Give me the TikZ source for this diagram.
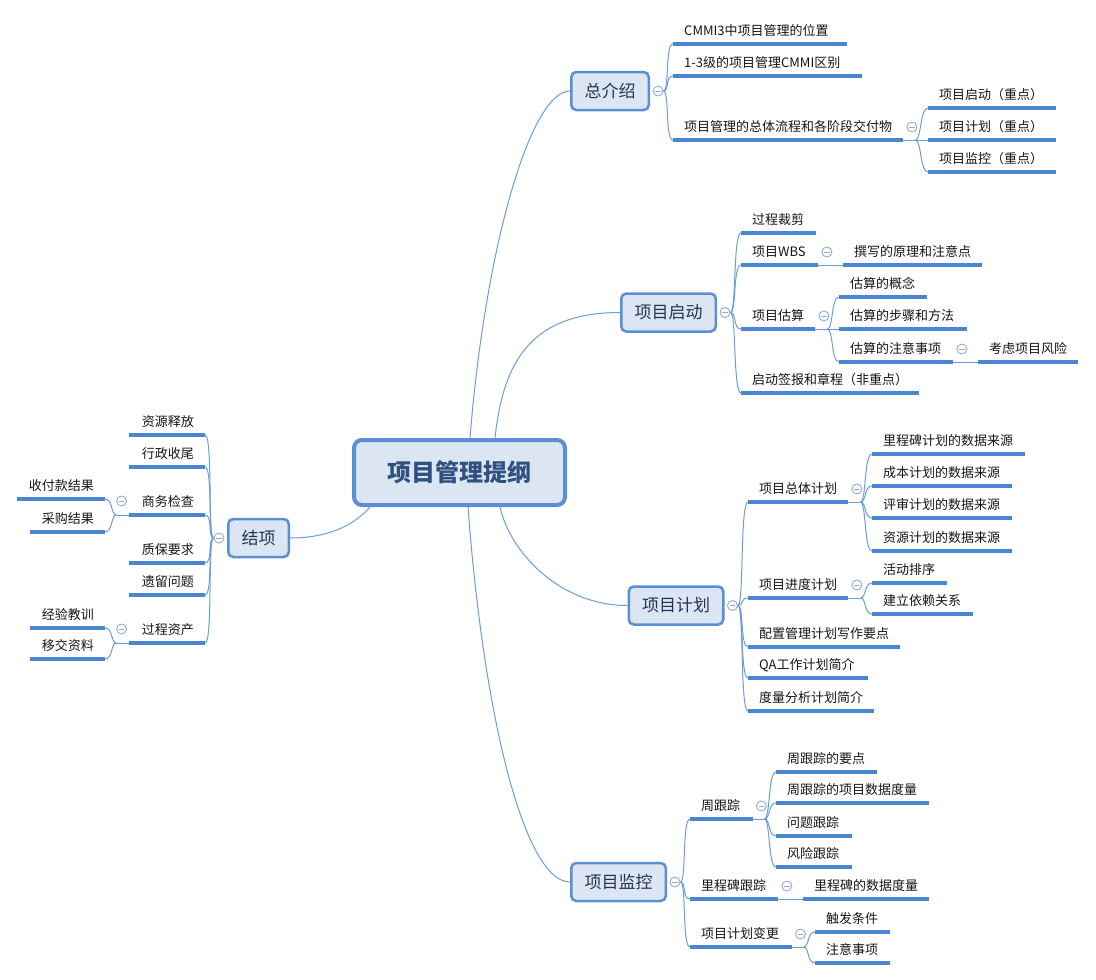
\documentclass[tikz,border=0pt]{standalone}
\usepackage{fontspec}
\setmainfont{Noto Sans CJK SC}
\usetikzlibrary{calc}
\definecolor{boxfill}{HTML}{DCE6F2}
\definecolor{boxline}{HTML}{5A8FD5}
\definecolor{ulcol}{HTML}{4A86D2}
\definecolor{conncol}{HTML}{6B9CDB}
\definecolor{togcol}{HTML}{8FAADC}
\definecolor{roottext}{HTML}{2F5180}
\definecolor{boxtext}{HTML}{243550}
\definecolor{itemtext}{HTML}{151515}
\tikzset{
  rootbox/.style={draw=boxline, line width=4pt, fill=boxfill, rounded corners=8pt,
    minimum width=211pt, minimum height=65pt, text=roottext,
    font=\fontsize{24}{28}\selectfont\bfseries},
  mainbox/.style={draw=boxline, line width=2.5pt, fill=boxfill, rounded corners=5pt,
    inner xsep=13.25pt, minimum height=38pt, text=boxtext,
    font=\fontsize{17}{20}\selectfont},
  itm/.style={inner xsep=11pt, inner ysep=6pt, text height=10.5pt, text depth=2pt,
    text=itemtext, font=\fontsize{13}{15}\selectfont},
  ul/.style={draw=ulcol, line width=3.3pt},
  conn/.style={draw=conncol, line width=1pt},
  tog/.style={circle, draw=togcol, fill=white, line width=0.9pt, minimum size=10pt, inner sep=0pt,
    path picture={\draw[togcol, line width=0.9pt] ([xshift=-2.6pt]path picture bounding box.center) -- ([xshift=2.6pt]path picture bounding box.center);}},
}
% right-hand item: name, x1, x2, y (underline), text
\newcommand\ritm[5]{%
  \pgfmathsetmacro\itmw{#3-#2-22}%
  \node[itm, anchor=south west] (#1) at (#2,#4) {\hbox to \itmw pt{#5\hfil}};
  \draw[ul] (#1.south west) -- (#1.south east);
}
% left-hand item: name, x1, x2, y (underline), text
\newcommand\litm[5]{%
  \pgfmathsetmacro\itmw{#3-#2-22}%
  \node[itm, anchor=south east] (#1) at (#3,#4) {\hbox to \itmw pt{\hfil #5}};
  \draw[ul] (#1.south west) -- (#1.south east);
}
\newcommand\rlink[2]{\draw[conn] (#1) .. controls +(6,0) and +(-8,0) .. (#2.south west);}
\newcommand\llink[2]{\draw[conn] (#1) .. controls +(-6,0) and +(8,0) .. (#2.south east);}
\begin{document}
\begin{tikzpicture}[x={(1pt,0)}, y={(0,-1pt)}]
\useasboundingbox (0,0) rectangle (1096,980);

% root
\node[rootbox] (root) at (459.5,472.5) {项目管理提纲};

% main boxes
\node[mainbox] (B1) at (610,91) {总介绍};
\node[mainbox] (B2) at (668.5,312.5) {项目启动};
\node[mainbox] (B3) at (676,605.5) {项目计划};
\node[mainbox] (B4) at (618.5,882) {项目监控};
\node[mainbox] (B5) at (258.5,538) {结项};

% root connectors
\draw[conn] ([xshift=10.5pt]root.north) .. controls +(15,-188) and +(-40,0) .. (B1.west);
\draw[conn] ([xshift=35.5pt]root.north) .. controls +(8,-75) and +(-90,0) .. (B2.west);
\draw[conn] ([xshift=40.5pt]root.south) .. controls +(10,45) and +(-68,0) .. (B3.west);
\draw[conn] ([xshift=8.5pt]root.south) .. controls +(16,213) and +(-45,0) .. (B4.west);
\draw[conn] ([xshift=-89.5pt]root.south) .. controls +(-20,23) and +(30,0) .. (B5.east);

% ===== 总介绍 =====
\ritm{A1}{673}{847}{44}{CMMI3中项目管理的位置}
\ritm{A2}{673}{862}{76}{1-3级的项目管理CMMI区别}
\ritm{A3}{673}{903}{140}{项目管理的总体流程和各阶段交付物}
\ritm{A31}{928}{1056}{108}{项目启动（重点）}
\ritm{A32}{928}{1056}{140}{项目计划（重点）}
\ritm{A33}{928}{1056}{172}{项目监控（重点）}
\node[tog] (T1) at ([xshift=8pt]B1.east) {};
\rlink{T1.east}{A1}
\rlink{T1.east}{A2}
\rlink{T1.east}{A3}
\coordinate (H3) at ([xshift=12pt]A3.south east);
\draw[conn] (A3.south east) -- (H3);
\rlink{H3}{A31}
\draw[conn] (H3) -- (A32.south west);
\rlink{H3}{A33}
\node[tog] (TA3) at ([xshift=8.5pt,yshift=13pt]A3.south east) {};

% ===== 项目启动 =====
\ritm{S1}{741}{816}{233}{过程裁剪}
\ritm{S2}{741}{818}{265}{项目WBS}
\ritm{S21}{843}{982}{265}{撰写的原理和注意点}
\ritm{S3}{741}{815}{329}{项目估算}
\ritm{S31}{839}{927}{297}{估算的概念}
\ritm{S32}{839}{967}{329}{估算的步骤和方法}
\ritm{S33}{839}{953}{362}{估算的注意事项}
\ritm{S331}{978}{1078}{362}{考虑项目风险}
\ritm{S4}{741}{919}{393}{启动签报和章程（非重点）}
\node[tog] (T2) at ([xshift=8pt]B2.east) {};
\rlink{T2.east}{S1}
\rlink{T2.east}{S2}
\rlink{T2.east}{S3}
\rlink{T2.east}{S4}
\draw[conn] (S2.south east) -- (S21.south west);
\node[tog] (TS2) at ([xshift=8.5pt,yshift=13pt]S2.south east) {};
\coordinate (HS3) at ([xshift=12pt]S3.south east);
\draw[conn] (S3.south east) -- (HS3);
\rlink{HS3}{S31}
\draw[conn] (HS3) -- (S32.south west);
\rlink{HS3}{S33}
\node[tog] (TS3) at ([xshift=8.5pt,yshift=13pt]S3.south east) {};
\draw[conn] (S33.south east) -- (S331.south west);
\node[tog] (TS33) at ([xshift=8.5pt,yshift=13pt]S33.south east) {};

% ===== 项目计划 =====
\ritm{P1}{748}{848}{502}{项目总体计划}
\ritm{P11}{872}{1025}{454}{里程碑计划的数据来源}
\ritm{P12}{872}{1012}{486}{成本计划的数据来源}
\ritm{P13}{872}{1012}{518}{评审计划的数据来源}
\ritm{P14}{872}{1012}{551}{资源计划的数据来源}
\ritm{P2}{748}{848}{598}{项目进度计划}
\ritm{P21}{872}{947}{583}{活动排序}
\ritm{P22}{872}{973}{614}{建立依赖关系}
\ritm{P3}{748}{900}{647}{配置管理计划写作要点}
\ritm{P4}{748}{868}{678}{QA工作计划简介}
\ritm{P5}{748}{874}{711}{度量分析计划简介}
\node[tog] (T3) at ([xshift=8pt]B3.east) {};
\rlink{T3.east}{P1}
\rlink{T3.east}{P2}
\rlink{T3.east}{P3}
\rlink{T3.east}{P4}
\rlink{T3.east}{P5}
\coordinate (HP1) at ([xshift=12pt]P1.south east);
\draw[conn] (P1.south east) -- (HP1);
\rlink{HP1}{P11}
\rlink{HP1}{P12}
\rlink{HP1}{P13}
\rlink{HP1}{P14}
\node[tog] (TP1) at ([xshift=8.5pt,yshift=13pt]P1.south east) {};
\coordinate (HP2) at ([xshift=12pt]P2.south east);
\draw[conn] (P2.south east) -- (HP2);
\rlink{HP2}{P21}
\rlink{HP2}{P22}
\node[tog] (TP2) at ([xshift=8.5pt,yshift=13pt]P2.south east) {};

% ===== 项目监控 =====
\ritm{M1}{690}{753}{819}{周跟踪}
\ritm{M11}{776}{877}{772}{周跟踪的要点}
\ritm{M12}{776}{929}{803}{周跟踪的项目数据度量}
\ritm{M13}{776}{852}{836}{问题跟踪}
\ritm{M14}{776}{852}{867}{风险跟踪}
\ritm{M2}{690}{778}{899}{里程碑跟踪}
\ritm{M21}{803}{929}{899}{里程碑的数据度量}
\ritm{M3}{690}{792}{947}{项目计划变更}
\ritm{M31}{815}{890}{932}{触发条件}
\ritm{M32}{815}{890}{963}{注意事项}
\node[tog] (T4) at ([xshift=8pt]B4.east) {};
\rlink{T4.east}{M1}
\rlink{T4.east}{M2}
\rlink{T4.east}{M3}
\coordinate (HM1) at ([xshift=11pt]M1.south east);
\draw[conn] (M1.south east) -- (HM1);
\rlink{HM1}{M11}
\rlink{HM1}{M12}
\rlink{HM1}{M13}
\rlink{HM1}{M14}
\node[tog] (TM1) at ([xshift=8pt,yshift=13pt]M1.south east) {};
\draw[conn] (M2.south east) -- (M21.south west);
\node[tog] (TM2) at ([xshift=8.5pt,yshift=13pt]M2.south east) {};
\coordinate (HM3) at ([xshift=11pt]M3.south east);
\draw[conn] (M3.south east) -- (HM3);
\rlink{HM3}{M31}
\rlink{HM3}{M32}
\node[tog] (TM3) at ([xshift=8pt,yshift=13pt]M3.south east) {};

% ===== 结项 =====
\litm{E1}{129}{205}{435}{资源释放}
\litm{E2}{129}{205}{467}{行政收尾}
\litm{E3}{129}{205}{515}{商务检查}
\litm{E31}{17}{105}{499}{收付款结果}
\litm{E32}{30}{105}{532}{采购结果}
\litm{E4}{129}{205}{563}{质保要求}
\litm{E5}{129}{205}{595}{遗留问题}
\litm{E6}{129}{205}{643}{过程资产}
\litm{E61}{30}{105}{628}{经验教训}
\litm{E62}{30}{105}{659}{移交资料}
\node[tog] (T5) at ([xshift=-8pt]B5.west) {};
\llink{T5.west}{E1}
\llink{T5.west}{E2}
\llink{T5.west}{E3}
\llink{T5.west}{E4}
\llink{T5.west}{E5}
\llink{T5.west}{E6}
\coordinate (HE3) at ([xshift=-12pt]E3.south west);
\draw[conn] (E3.south west) -- (HE3);
\llink{HE3}{E31}
\llink{HE3}{E32}
\node[tog] (TE3) at ([xshift=-7pt,yshift=14pt]E3.south west) {};
\coordinate (HE6) at ([xshift=-12pt]E6.south west);
\draw[conn] (E6.south west) -- (HE6);
\llink{HE6}{E61}
\llink{HE6}{E62}
\node[tog] (TE6) at ([xshift=-7pt,yshift=14pt]E6.south west) {};
\end{tikzpicture}
\end{document}
